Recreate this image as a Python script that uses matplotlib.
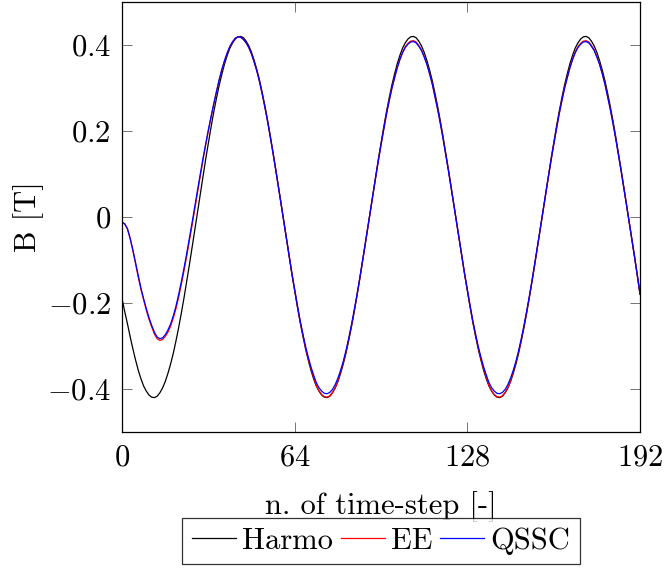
import numpy as np
import matplotlib
matplotlib.use("Agg")
import matplotlib.pyplot as plt
from matplotlib.ticker import FuncFormatter

plt.rcParams['font.family'] = ['cmr10', 'DejaVu Serif']
plt.rcParams['mathtext.fontset'] = 'cm'
plt.rcParams['axes.formatter.use_mathtext'] = True

# one value per time-step
steps = np.arange(0, 193)

harmo = [
    -0.190, -0.220, -0.248, -0.278, -0.306, -0.332, -0.356, -0.376, -0.393, -0.405,
    -0.414, -0.419, -0.420, -0.417, -0.409, -0.398, -0.383, -0.364, -0.342, -0.317,
    -0.288, -0.257, -0.223, -0.187, -0.149, -0.110, -0.070, -0.029, 0.012, 0.053,
    0.094, 0.134, 0.172, 0.209, 0.244, 0.276, 0.306, 0.332, 0.356, 0.376,
    0.393, 0.405, 0.414, 0.419, 0.420, 0.417, 0.409, 0.398, 0.383, 0.364,
    0.342, 0.317, 0.288, 0.257, 0.223, 0.187, 0.149, 0.110, 0.070, 0.029,
    -0.012, -0.053, -0.094, -0.134,
    -0.172, -0.209, -0.244, -0.276, -0.306, -0.332, -0.356, -0.376, -0.393, -0.405,
    -0.414, -0.419, -0.420, -0.417, -0.409, -0.398, -0.383, -0.364, -0.342, -0.317,
    -0.288, -0.257, -0.223, -0.187, -0.149, -0.110, -0.070, -0.029, 0.012, 0.053,
    0.094, 0.134, 0.172, 0.209, 0.244, 0.276, 0.306, 0.332, 0.356, 0.376,
    0.393, 0.405, 0.414, 0.419, 0.420, 0.417, 0.409, 0.398, 0.383, 0.364,
    0.342, 0.317, 0.288, 0.257, 0.223, 0.187, 0.149, 0.110, 0.070, 0.029,
    -0.012, -0.053, -0.094, -0.134,
    -0.172, -0.209, -0.244, -0.276, -0.306, -0.332, -0.356, -0.376, -0.393, -0.405,
    -0.414, -0.419, -0.420, -0.417, -0.409, -0.398, -0.383, -0.364, -0.342, -0.317,
    -0.288, -0.257, -0.223, -0.187, -0.149, -0.110, -0.070, -0.029, 0.012, 0.053,
    0.094, 0.134, 0.172, 0.209, 0.244, 0.276, 0.306, 0.332, 0.356, 0.376,
    0.393, 0.405, 0.414, 0.419, 0.420, 0.417, 0.409, 0.398, 0.383, 0.364,
    0.342, 0.317, 0.288, 0.257, 0.223, 0.187, 0.149, 0.110, 0.070, 0.029,
    -0.012, -0.053, -0.094, -0.136,
    -0.180]

ee = [
    -0.012, -0.016, -0.028, -0.050, -0.078, -0.108, -0.140, -0.168, -0.193, -0.217,
    -0.238, -0.256, -0.272, -0.283, -0.287, -0.285, -0.278, -0.268, -0.254, -0.235,
    -0.213, -0.186, -0.156, -0.124, -0.090, -0.054, -0.018, 0.020, 0.058, 0.095,
    0.132, 0.167, 0.200, 0.232, 0.262, 0.291, 0.318, 0.342, 0.363, 0.381,
    0.396, 0.407, 0.415, 0.419, 0.418, 0.413, 0.405, 0.394, 0.379, 0.360,
    0.339, 0.314, 0.285, 0.254, 0.221, 0.185, 0.148, 0.109, 0.069, 0.029,
    -0.012, -0.052, -0.093, -0.133,
    -0.170, -0.207, -0.242, -0.273, -0.303, -0.329, -0.352, -0.372, -0.392, -0.404,
    -0.413, -0.418, -0.419, -0.416, -0.408, -0.397, -0.382, -0.360, -0.339, -0.314,
    -0.285, -0.254, -0.221, -0.185, -0.148, -0.109, -0.069, -0.029, 0.012, 0.052,
    0.092, 0.131, 0.168, 0.204, 0.239, 0.270, 0.299, 0.324, 0.348, 0.367,
    0.384, 0.396, 0.404, 0.409, 0.410, 0.407, 0.399, 0.389, 0.374, 0.356,
    0.334, 0.310, 0.281, 0.251, 0.218, 0.183, 0.146, 0.108, 0.068, 0.028,
    -0.012, -0.052, -0.093, -0.133,
    -0.170, -0.207, -0.242, -0.273, -0.303, -0.329, -0.352, -0.372, -0.392, -0.404,
    -0.413, -0.418, -0.419, -0.416, -0.408, -0.397, -0.382, -0.360, -0.339, -0.314,
    -0.285, -0.254, -0.221, -0.185, -0.148, -0.109, -0.069, -0.029, 0.012, 0.052,
    0.092, 0.131, 0.168, 0.204, 0.239, 0.270, 0.299, 0.324, 0.348, 0.367,
    0.384, 0.396, 0.404, 0.409, 0.410, 0.407, 0.399, 0.389, 0.374, 0.356,
    0.334, 0.310, 0.281, 0.251, 0.218, 0.183, 0.146, 0.108, 0.068, 0.028,
    -0.012, -0.052, -0.093, -0.136,
    -0.178]

qssc = [
    -0.012, -0.016, -0.027, -0.049, -0.076, -0.106, -0.137, -0.165, -0.190, -0.213,
    -0.234, -0.252, -0.268, -0.279, -0.283, -0.281, -0.274, -0.263, -0.249, -0.230,
    -0.207, -0.180, -0.150, -0.118, -0.084, -0.048, -0.012, 0.026, 0.063, 0.100,
    0.136, 0.170, 0.203, 0.234, 0.264, 0.292, 0.319, 0.343, 0.364, 0.382,
    0.397, 0.408, 0.416, 0.419, 0.418, 0.413, 0.405, 0.394, 0.379, 0.360,
    0.339, 0.314, 0.285, 0.254, 0.221, 0.185, 0.148, 0.109, 0.069, 0.029,
    -0.012, -0.052, -0.092, -0.132,
    -0.169, -0.205, -0.240, -0.271, -0.300, -0.325, -0.348, -0.367, -0.385, -0.397,
    -0.405, -0.410, -0.411, -0.408, -0.401, -0.390, -0.375, -0.357, -0.336, -0.311,
    -0.283, -0.252, -0.219, -0.184, -0.147, -0.108, -0.068, -0.028, 0.012, 0.052,
    0.092, 0.130, 0.168, 0.203, 0.238, 0.269, 0.298, 0.323, 0.346, 0.366,
    0.382, 0.394, 0.402, 0.407, 0.408, 0.405, 0.397, 0.387, 0.372, 0.355,
    0.333, 0.309, 0.280, 0.250, 0.217, 0.182, 0.145, 0.107, 0.068, 0.028,
    -0.012, -0.052, -0.092, -0.132,
    -0.169, -0.205, -0.240, -0.271, -0.300, -0.325, -0.348, -0.367, -0.385, -0.397,
    -0.405, -0.410, -0.411, -0.408, -0.401, -0.390, -0.375, -0.357, -0.336, -0.311,
    -0.283, -0.252, -0.219, -0.184, -0.147, -0.108, -0.068, -0.028, 0.012, 0.052,
    0.092, 0.130, 0.168, 0.203, 0.238, 0.269, 0.298, 0.323, 0.346, 0.366,
    0.382, 0.394, 0.402, 0.407, 0.408, 0.405, 0.397, 0.387, 0.372, 0.355,
    0.333, 0.309, 0.280, 0.250, 0.217, 0.182, 0.145, 0.107, 0.068, 0.028,
    -0.012, -0.052, -0.092, -0.135,
    -0.178]

x_ticks = [0, 64, 128, 192]
y_ticks = [-0.4, -0.2, 0, 0.2, 0.4]

fig = plt.figure(figsize=(6.65, 5.7), dpi=100)
ax = fig.add_axes([0.1835, 0.2421, 0.7789, 0.7544])

ax.plot(steps, harmo, color='black', lw=0.9, label='Harmo')
ax.plot(steps, ee, color='red', lw=0.9, label='EE')
ax.plot(steps, qssc, color='blue', lw=0.9, label='QSSC')

ax.set_xlim(0, 192)
ax.set_ylim(-0.5, 0.5)
ax.set_xticks(x_ticks)
ax.set_yticks(y_ticks)
ax.yaxis.set_major_formatter(FuncFormatter(lambda v, p: r'$%g$' % v))
ax.xaxis.set_major_formatter(FuncFormatter(lambda v, p: r'$%g$' % v))
ax.tick_params(direction='in', length=7, width=0.7, color='0.45',
               top=True, right=True, labelsize=22)
ax.tick_params(axis='y', pad=8)
ax.tick_params(axis='x', pad=9)
for s in ax.spines.values():
    s.set_linewidth(0.9)

ax.set_xlabel('n. of time-step [-]', fontsize=22, va='top')
ax.xaxis.set_label_coords(0.5, -0.138)
ax.set_ylabel('B [T]', fontsize=22)
ax.yaxis.set_label_coords(-0.15, 0.5)

leg = ax.legend(loc='upper center', bbox_to_anchor=(0.5, -0.2), ncol=3,
                fontsize=22, frameon=True, fancybox=False, edgecolor='black',
                handlelength=1.45, handletextpad=0.2, columnspacing=0.25,
                borderpad=0.3, borderaxespad=0)
leg.get_frame().set_linewidth(0.9)

fig.savefig('out.png', dpi=100)
